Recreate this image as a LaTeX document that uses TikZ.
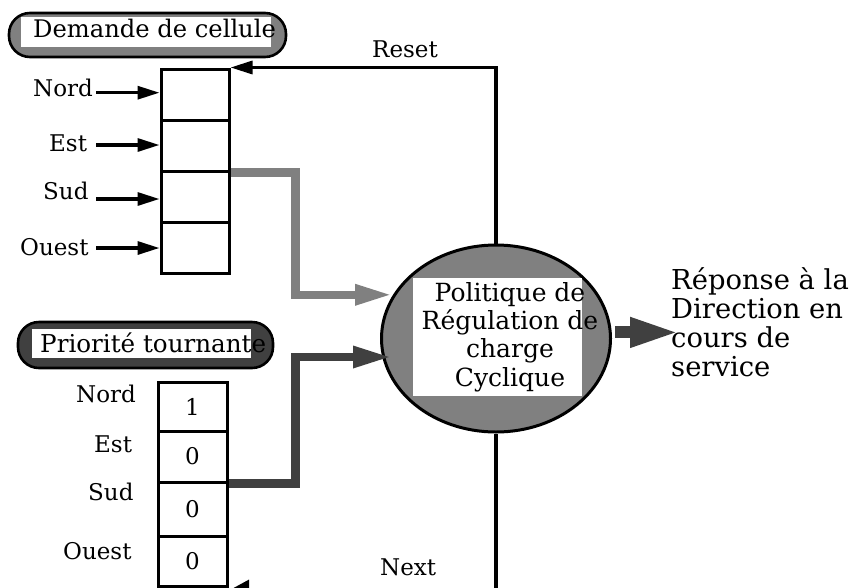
\documentclass[tikz,border=0pt]{standalone}
\usepackage{fontspec}
\setmainfont{DejaVu Serif}
\usetikzlibrary{shapes.geometric,arrows.meta}
\definecolor{midgray}{HTML}{808080}
\definecolor{deepgray}{HTML}{404040}
\tikzset{
  txt/.style={inner sep=0pt, font=\fontsize{23}{28.3}\selectfont},
  bigtxt/.style={inner sep=0pt, font=\fontsize{24.6}{28.3}\selectfont},
  cell/.style={draw, line width=3pt, minimum width=68pt, inner sep=0pt, font=\fontsize{23}{28}\selectfont},
  blk/.style={line width=3.2pt, -{Triangle[length=22pt,width=13pt]}},
  pill/.style={draw, line width=2.6pt, rounded corners=21pt, inner sep=0pt},
  whitebox/.style={fill=white, inner sep=0pt},
  grayarr/.style={draw=midgray, line width=8.5pt, line join=miter, -{Triangle[length=38pt,width=19pt]}},
  darkarr/.style={draw=deepgray, line width=8.5pt, line join=miter, -{Triangle[length=39pt,width=20pt]}},
  outarr/.style={draw=deepgray, line width=12pt, -{Triangle[length=50pt,width=27pt]}},
}
\begin{document}
\begin{tikzpicture}[x=1pt,y=-1pt]
\useasboundingbox (0,0) rectangle (856,587);
\clip (0,0) rectangle (856,587);

% ---- Demande de cellule
\node[pill, fill=midgray, minimum width=277pt, minimum height=44pt] (dpill) at (147.5,35) {};
\node[whitebox, minimum width=250pt, minimum height=30pt] (dwhite) at (146,32) {};
\node[bigtxt, font=\fontsize{24.2}{28}\selectfont, anchor=base west] (dtext) at (33,37.5) {Demande de cellule};

% demand register
\node[cell, minimum height=51pt] (d1) at (195,94.5) {};
\node[cell, minimum height=51pt] (d2) at (195,145.5) {};
\node[cell, minimum height=51pt] (d3) at (195,196.5) {};
\node[cell, minimum height=51pt] (d4) at (195,247.5) {};

\node[txt, anchor=base west] (ln1) at (33,96.5) {Nord};
\node[txt, anchor=base west] (ln2) at (49,151) {Est};
\node[txt, anchor=base west] (ln3) at (43,199) {Sud};
\node[txt, anchor=base west] (ln4) at (20,255) {Ouest};

\coordinate (a1) at (96,92.7);
\coordinate (a2) at (96,145);
\coordinate (a3) at (96,199);
\coordinate (a4) at (96,248);
\draw[blk] (a1) -- (a1 -| d1.west);
\draw[blk] (a2) -- (a2 -| d2.west);
\draw[blk] (a3) -- (a3 -| d3.west);
\draw[blk] (a4) -- (a4 -| d4.west);

% ---- ellipse
\node[ellipse, draw, fill=midgray, line width=3pt, minimum width=229pt, minimum height=187pt, inner sep=0pt] (ell) at (496,338.5) {};
\node[whitebox, minimum width=169pt, minimum height=118pt] (ebox) at (497.5,337) {};
\node[inner sep=0pt, font=\fontsize{25}{28.3}\selectfont, align=center, anchor=north] (etext) at (510,282) {Politique de\\Régulation de\\charge\\Cyclique};

% ---- Priorité tournante
\node[pill, fill=deepgray, minimum width=255pt, minimum height=46pt] (ppill) at (145.5,345) {};
\node[whitebox, minimum width=219pt, minimum height=29pt] (pwhite) at (141.5,343.5) {};
\node[bigtxt, anchor=base west] (ptext) at (40,352) {Priorité tournante};

\node[cell, minimum width=69pt, minimum height=49pt] (p1) at (192.5,406.5) {1};
\node[cell, minimum width=69pt, minimum height=51pt] (p2) at (192.5,456.5) {0};
\node[cell, minimum width=69pt, minimum height=54pt] (p3) at (192.5,509) {0};
\node[cell, minimum width=69pt, minimum height=50pt] (p4) at (192.5,561) {0};

\node[txt, anchor=base west] (lp1) at (76,402) {Nord};
\node[txt, anchor=base west] (lp2) at (94,452) {Est};
\node[txt, anchor=base west] (lp3) at (88,500) {Sud};
\node[txt, anchor=base west] (lp4) at (63,559) {Ouest};

% ---- connectors
\coordinate (gx) at (295.5,230);
\draw[grayarr] (d2.south east) -| (gx) |- (ell.157);

\coordinate (dx) at (295.5,420);
\coordinate (dtip) at (392,357);
\draw[darkarr] (p2.south east) -| (dx) |- (dtip);

\coordinate (outtip) at (680,332.5);
\draw[outarr, shorten <=3pt] (ell.3) -- (ell.3 -| outtip);

\draw[blk] (ell.north) |- (d1.north east);
\node[txt, anchor=base west] (reset) at (372,57) {Reset};

\coordinate (nx) at (227,591.5);
\draw[blk, -{Triangle[length=22pt,width=23pt]}] (ell.south) |- (nx);
\node[txt, anchor=base west] (next) at (380,575) {Next};

% ---- response text
\node[inner sep=0pt, font=\fontsize{27.4}{29.2}\selectfont, align=left, anchor=north west] (resp) at (671,267) {Réponse à la\\Direction en\\cours de\\service};
\end{tikzpicture}
\end{document}
